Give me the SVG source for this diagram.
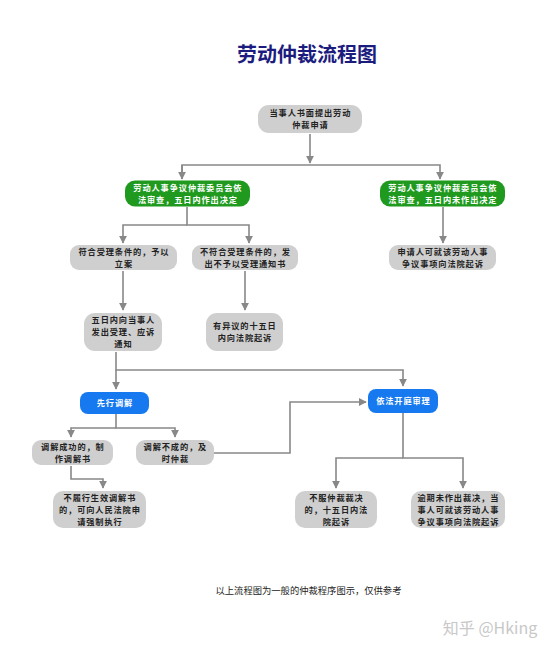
<svg xmlns="http://www.w3.org/2000/svg" width="554" height="653" viewBox="0 0 554 653">
<style>
text{font-family:"Noto Sans CJK SC","Liberation Sans",sans-serif;text-anchor:middle}
.g{fill:#cfcfcf}
.gr{fill:#1f9a1f}
.bl{fill:#1679ef}
.t{font-size:8.2px;letter-spacing:0.9px;fill:#222;font-weight:bold}
.w{font-size:8.2px;letter-spacing:0.9px;fill:#fff;font-weight:bold}
.c{fill:none;stroke:#888;stroke-width:1.6}
</style>
<defs>
<marker id="a" viewBox="0 0 10 10" refX="9" refY="5" markerWidth="5" markerHeight="5" orient="auto" markerUnits="strokeWidth">
<path d="M0,0 L10,5 L0,10 z" fill="#888"/>
</marker>
</defs>
<rect width="554" height="653" fill="#fff"/>
<text x="307" y="62" font-size="20" font-weight="bold" fill="#1c1c7e">劳动仲裁流程图</text>

<g id="connectors">
<path class="c" d="M310,134 V163" marker-end="url(#a)"/>
<path class="c" d="M182,179 V165 H440 V179" marker-end="url(#a)"/>
<path class="c" d="M182,165 V179" marker-end="url(#a)"/>
<path class="c" d="M187,207 V225 H249 V243" marker-end="url(#a)"/>
<path class="c" d="M187,225 H123 V243" marker-end="url(#a)"/>
<path class="c" d="M443,207 V243" marker-end="url(#a)"/>
<path class="c" d="M123,271 V310" marker-end="url(#a)"/>
<path class="c" d="M245,271 V310" marker-end="url(#a)"/>
<path class="c" d="M116,352 V370 H403 V386" marker-end="url(#a)"/>
<path class="c" d="M116,370 V389" marker-end="url(#a)"/>
<path class="c" d="M116,414 V428 H175 V437" marker-end="url(#a)"/>
<path class="c" d="M116,428 H71 V437" marker-end="url(#a)"/>
<path class="c" d="M214,453 H290 V402 H366" marker-end="url(#a)"/>
<path class="c" d="M71,466 V479 H103 V488" marker-end="url(#a)"/>
<path class="c" d="M403,413 V458 H463 V488" marker-end="url(#a)"/>
<path class="c" d="M403,458 H336 V488" marker-end="url(#a)"/>
</g>

<g id="n1"><rect class="g" x="258" y="105" width="104" height="28" rx="11"/>
<text class="t" y="116.1"><tspan x="310.4">当事人书面提出劳动</tspan><tspan x="310.4" dy="12">仲裁申请</tspan></text></g>

<g id="n2"><rect class="gr" x="125" y="180.5" width="125" height="26" rx="10"/>
<text class="w" y="190.6"><tspan x="187.9">劳动人事争议仲裁委员会依</tspan><tspan x="187.9" dy="12">法审查，五日内作出决定</tspan></text></g>

<g id="n3"><rect class="gr" x="380" y="180.5" width="125" height="26" rx="10"/>
<text class="w" y="190.6"><tspan x="442.9">劳动人事争议仲裁委员会依</tspan><tspan x="442.9" dy="12">法审查，五日内未作出决定</tspan></text></g>

<g id="n4"><rect class="g" x="70" y="245" width="107" height="25" rx="9"/>
<text class="t" y="254.6"><tspan x="123.9">符合受理条件的，予以</tspan><tspan x="123.9" dy="12">立案</tspan></text></g>

<g id="n5"><rect class="g" x="192" y="245" width="106" height="25" rx="9"/>
<text class="t" y="254.6"><tspan x="245.4">不符合受理条件的，发</tspan><tspan x="245.4" dy="12">出不予以受理通知书</tspan></text></g>

<g id="n6"><rect class="g" x="389" y="245" width="107" height="25" rx="9"/>
<text class="t" y="254.6"><tspan x="442.9">申请人可就该劳动人事</tspan><tspan x="442.9" dy="12">争议事项向法院起诉</tspan></text></g>

<g id="n7"><rect class="g" x="84" y="313" width="78" height="38" rx="11"/>
<text class="t" y="323.1"><tspan x="123.4">五日内向当事人</tspan><tspan x="123.4" dy="12">发出受理、应诉</tspan><tspan x="123.4" dy="12">通知</tspan></text></g>

<g id="n8"><rect class="g" x="206" y="313" width="77" height="38" rx="11"/>
<text class="t" y="329.1"><tspan x="244.9">有异议的十五日</tspan><tspan x="244.9" dy="12">内向法院起诉</tspan></text></g>

<g id="n9"><rect class="bl" x="80" y="392" width="69" height="22" rx="8"/>
<text class="w" x="114.9" y="406.2">先行调解</text></g>

<g id="n10"><rect class="bl" x="368" y="389" width="70" height="24" rx="8"/>
<text class="w" x="403.4" y="404.2">依法开庭审理</text></g>

<g id="n11"><rect class="g" x="32" y="440" width="81" height="25" rx="9"/>
<text class="t" y="449.6"><tspan x="72.9">调解成功的，制</tspan><tspan x="72.9" dy="12">作调解书</tspan></text></g>

<g id="n12"><rect class="g" x="136" y="440" width="78" height="25" rx="9"/>
<text class="t" y="449.6"><tspan x="175.4">调解不成的，及</tspan><tspan x="175.4" dy="12">时仲裁</tspan></text></g>

<g id="n13"><rect class="g" x="53" y="491" width="93" height="37" rx="10"/>
<text class="t" y="500.6"><tspan x="99.9">不履行生效调解书</tspan><tspan x="99.9" dy="12">的，可向人民法院申</tspan><tspan x="99.9" dy="12">请强制执行</tspan></text></g>

<g id="n14"><rect class="g" x="295" y="491" width="82" height="37" rx="10"/>
<text class="t" y="500.6"><tspan x="336.4">不服仲裁裁决</tspan><tspan x="336.4" dy="12">的，十五日内法</tspan><tspan x="336.4" dy="12">院起诉</tspan></text></g>

<g id="n15"><rect class="g" x="411" y="491" width="94" height="37" rx="10"/>
<text class="t" y="500.6"><tspan x="458.4">逾期未作出裁决，当</tspan><tspan x="458.4" dy="12">事人可就该劳动人事</tspan><tspan x="458.4" dy="12">争议事项向法院起诉</tspan></text></g>

<text x="308.5" y="594" font-size="9.3" fill="#222">以上流程图为一般的仲裁程序图示，仅供参考</text>
<text x="490" y="634" font-size="16" fill="#c8c8c8">知乎 @Hking</text>
</svg>
